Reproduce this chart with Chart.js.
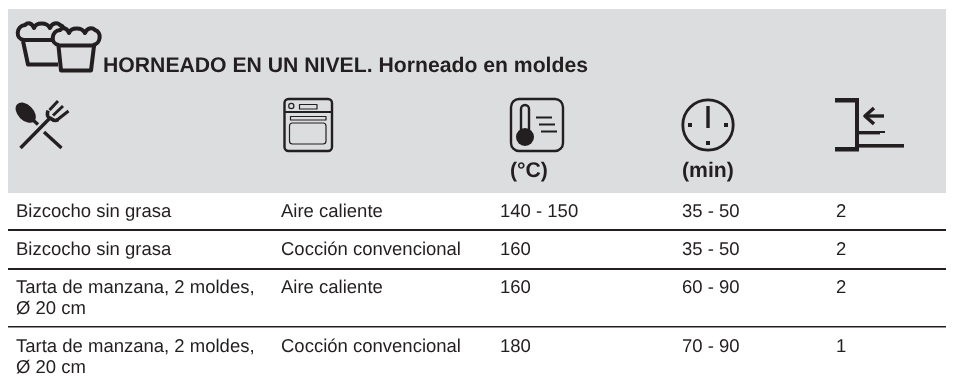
<!DOCTYPE html>
<html lang="es"><head><meta charset="utf-8">
<style>html,body{margin:0;padding:0;background:#fff}canvas{display:block}</style>
<script src="https://cdn.jsdelivr.net/npm/chart.js@4"></script>
</head><body><canvas id="c" width="954" height="382"></canvas>
<script>
// ---- table content ----
const dishes = ["Bizcocho sin grasa","Bizcocho sin grasa","Tarta de manzana, 2 moldes,\nØ 20 cm","Tarta de manzana, 2 moldes,\nØ 20 cm"];
const functions = ["Aire caliente","Cocción convencional","Aire caliente","Cocción convencional"];
const temperatures = ["140 - 150","160","160","180"];
const times = ["35 - 50","35 - 50","60 - 90","70 - 90"];
const levels = ["2","2","2","1"];
const columns = [dishes,functions,temperatures,times,levels];
const title = "HORNEADO EN UN NIVEL. Horneado en moldes";
const unitLabels = ["(°C)","(min)"];

// ---- layout ----
const INK="#231f20", PANEL="#dcddde";
const colX=[16,281,500,682,836], rowY=[217,255,293,352], ruleY=[230,269,327];
const BODY='18.5px "Liberation Sans"', BOLD='bold 21.2px "Liberation Sans"', LINE=20.5;

function icons(c){
  c.save(); c.strokeStyle=INK; c.fillStyle=INK; c.lineCap="butt"; c.lineJoin="round";
  const L=(w,...p)=>{c.lineWidth=w;c.beginPath();c.moveTo(p[0],p[1]);for(let i=2;i<p.length;i+=2)c.lineTo(p[i],p[i+1]);c.stroke();};
  const RR=(w,x,y,a,b,r)=>{c.lineWidth=w;c.beginPath();c.roundRect(x,y,a,b,r);c.stroke();};
  // muffins
  const SW=4;
  const cap=(dx,dy)=>{c.lineWidth=SW;c.beginPath();c.moveTo(24+dx,40+dy);
    c.bezierCurveTo(15+dx,39+dy,16+dx,26+dy,25+dx,25+dy);
    c.bezierCurveTo(28+dx,22+dy,32+dx,23+dy,34+dx,28+dy);
    c.bezierCurveTo(36+dx,22+dy,47+dx,22+dy,50+dx,28+dy);
    c.bezierCurveTo(52+dx,23+dy,57+dx,22+dy,60+dx,25+dy);
    c.bezierCurveTo(67+dx,27+dy,66+dx,39+dy,58+dx,40+dy);c.stroke();};
  cap(0,0); L(SW,22,40,55,40); L(SW,23,41,28,64.5,58,64.5);
  c.fillStyle=PANEL; c.beginPath();c.moveTo(59,44);c.lineTo(51,38);c.lineTo(60,28);c.lineTo(100,28);c.lineTo(95,44);c.fill();c.fillStyle=INK;
  cap(35,5); L(SW,57,45.5,96,45.5); L(SW,58.5,46,61,70.5,91,70.5,94,46);
  // cutlery
  L(3.4,20.5,148,50,118); L(3.4,44,132,61.5,148); L(3.4,33,120,38,124.5);
  c.save();c.translate(25.7,112.7);c.rotate(Math.PI/4);c.beginPath();c.ellipse(0,0,12,7.8,0,0,7);c.fill();c.restore();
  L(3,58,101,49.5,110); L(3,63,106,53,115.5); L(3,68.5,111,57,120);
  c.lineWidth=3.6;c.beginPath();c.moveTo(48,110.5);c.quadraticCurveTo(46,117,50,118);c.quadraticCurveTo(55,122,58,119.5);c.stroke();
  // oven
  RR(2.4,284.5,99,47.5,52,4); L(2.2,284,112,332,112);
  c.lineWidth=1.2;c.beginPath();c.arc(291.3,106,2.6,0,7);c.stroke();
  c.strokeRect(299.5,104.5,17.5,4.5); c.strokeRect(290.5,116.5,35.5,3.5);
  RR(1.2,289.5,123,36.5,21,3);
  // thermometer
  RR(2.4,511,99,52,52,8);
  c.lineWidth=2.4;c.beginPath();c.moveTo(521,130);c.lineTo(521,109);c.arc(525,109,4,Math.PI,0);c.lineTo(529,130);c.stroke();
  c.beginPath();c.arc(525,137,9,0,7);c.fill();
  L(2,536,117.5,552,117.5); L(2,539,124.5,555,124.5); L(2,541,131.5,557,131.5);
  // clock
  c.lineWidth=2.8;c.beginPath();c.arc(708,125,25.2,0,7);c.stroke();
  c.fillRect(706.3,106,3.4,22); c.fillRect(688,123,4,4); c.fillRect(724,123,4,4); c.fillRect(706,141,4,4);
  // shelf
  c.fillRect(835,98,24,4.5); c.fillRect(855,98,4,53); c.fillRect(835,147,24,4.5);
  c.fillRect(859,144,45,3.6); c.fillRect(859,131,26,2); c.fillRect(859,133,21,1.4);
  L(3.4,884,116,866,116); L(3.6,874,108,865,116,874,124);
  c.restore();
}

const tablePlugin={id:"table",
  beforeDatasetsDraw(chart){
    const {ctx:c,scales:{x,y}}=chart;
    c.textRendering="geometricPrecision";
    c.fillStyle=PANEL; c.fillRect(x.left,y.getPixelForValue(9),x.width,184);
    icons(c);
    c.fillStyle=INK; c.textAlign="left"; c.textBaseline="alphabetic";
    c.font=BOLD; c.fillText(title,x.getPixelForValue(103),y.getPixelForValue(72));
    c.fillText(unitLabels[0],x.getPixelForValue(510),y.getPixelForValue(177));
    c.fillText(unitLabels[1],x.getPixelForValue(682),y.getPixelForValue(177));
  },
  afterDatasetsDraw(chart){
    const c=chart.ctx; c.textRendering="geometricPrecision";
    c.fillStyle=INK; c.font=BODY; c.textAlign="left"; c.textBaseline="alphabetic";
    chart.data.datasets.forEach((ds,i)=>{
      chart.getDatasetMeta(i).data.forEach((pt,j)=>{
        ds.cells[j].split("\n").forEach((t,k)=>c.fillText(t,pt.x,pt.y+k*LINE));
      });
    });
  }};

new Chart(document.getElementById("c"),{
  type:"scatter",
  data:{datasets:columns.map((col,i)=>({cells:col,pointRadius:0,
    data:col.map((_,j)=>({x:colX[i],y:rowY[j]}))}))},
  options:{responsive:false,animation:false,
    layout:{padding:{left:8,right:8,top:0,bottom:0}},
    plugins:{legend:{display:false},tooltip:{enabled:false},title:{display:false}},
    scales:{
      x:{type:"linear",min:8,max:946,display:false},
      y:{type:"linear",min:0,max:382,reverse:true,
        afterBuildTicks(s){s.ticks=ruleY.map(v=>({value:v}));},
        ticks:{display:false},border:{display:false},
        grid:{drawTicks:false,color:INK,lineWidth:c=>c.index===2?1.6:2}}
    }},
  plugins:[tablePlugin]
});
</script></body></html>
